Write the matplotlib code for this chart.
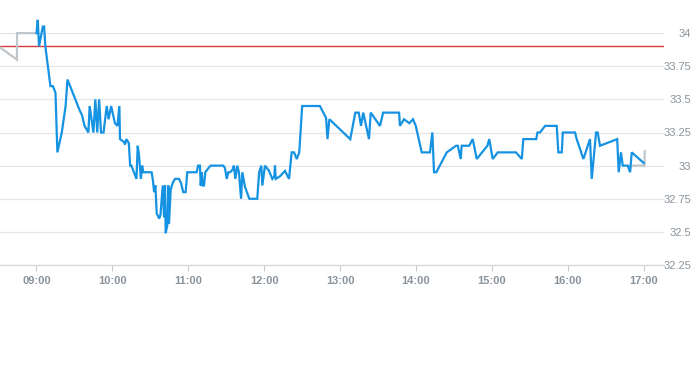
import matplotlib
matplotlib.use("Agg")
import matplotlib.pyplot as plt

# ---- data ----
times = [
    "09:00:00", "09:01:00", "09:02:00", "09:05:00", "09:06:00", "09:07:00", "09:11:00", "09:13:00",
    "09:15:00", "09:16:30", "09:20:00", "09:23:00", "09:24:30", "09:34:00", "09:36:00", "09:38:00",
    "09:41:00", "09:42:00", "09:45:00", "09:46:30", "09:48:00", "09:49:30", "09:51:00", "09:53:00",
    "09:55:30", "09:57:00", "09:59:00", "10:02:00", "10:04:00", "10:05:30", "10:06:00", "10:09:00",
    "10:10:00", "10:11:00", "10:13:00", "10:14:00", "10:15:00", "10:19:00", "10:20:00", "10:21:00",
    "10:22:30", "10:23:30", "10:24:30", "10:31:00", "10:32:00", "10:33:00", "10:34:00", "10:35:00",
    "10:37:00", "10:38:00", "10:39:48", "10:40:48", "10:41:36", "10:42:06", "10:43:24", "10:44:12",
    "10:44:42", "10:46:06", "10:47:42", "10:49:30", "10:52:36", "10:54:12", "10:56:00", "10:57:54",
    "10:59:12", "11:06:36", "11:07:42", "11:09:12", "11:09:48", "11:10:36", "11:11:24", "11:12:24",
    "11:13:24", "11:15:48", "11:17:42", "11:27:42", "11:29:00", "11:30:24", "11:31:36", "11:33:00",
    "11:35:00", "11:36:00", "11:37:12", "11:38:42", "11:40:00", "11:41:42", "11:42:42", "11:44:48",
    "11:48:12", "11:54:30", "11:56:00", "11:57:42", "11:58:30", "12:00:36", "12:03:48", "12:06:24",
    "12:08:00", "12:08:30", "12:09:06", "12:12:30", "12:16:24", "12:19:36", "12:21:42", "12:23:36",
    "12:25:42", "12:27:42", "12:30:00", "12:44:00", "12:46:42", "12:48:54", "12:50:00", "12:51:30",
    "13:08:00", "13:12:00", "13:14:42", "13:16:30", "13:18:18", "13:22:48", "13:24:12", "13:31:30",
    "13:34:00", "13:46:36", "13:47:18", "13:50:30", "13:54:42", "13:57:36", "13:59:48", "14:04:30",
    "14:11:00", "14:12:54", "14:14:12", "14:16:00", "14:24:18", "14:31:36", "14:33:00", "14:35:18",
    "14:36:06", "14:42:00", "14:44:48", "14:48:00", "14:56:24", "14:57:54", "15:00:36", "15:04:36",
    "15:19:00", "15:23:36", "15:24:48", "15:35:00", "15:36:00", "15:38:00", "15:42:00", "15:51:12",
    "15:52:30", "15:55:12", "15:56:00", "16:05:42", "16:07:00", "16:12:18", "16:17:30", "16:18:54",
    "16:22:18", "16:23:36", "16:25:24", "16:39:00", "16:40:12", "16:42:00", "16:43:24", "16:47:24",
    "16:49:12", "16:50:30", "17:00:00",
]
prices = [
    34.00, 34.10, 33.90, 34.05, 34.05, 33.90, 33.60, 33.60,
    33.55, 33.10, 33.25, 33.45, 33.65, 33.42, 33.38, 33.30,
    33.25, 33.45, 33.25, 33.50, 33.25, 33.50, 33.25, 33.25,
    33.45, 33.35, 33.45, 33.32, 33.30, 33.45, 33.20, 33.18,
    33.16, 33.20, 33.17, 33.00, 33.00, 32.90, 33.15, 33.08,
    32.90, 33.00, 32.95, 32.95, 32.89, 32.80, 32.85, 32.64,
    32.60, 32.63, 32.85, 32.61, 32.85, 32.49, 32.55, 32.85,
    32.56, 32.82, 32.87, 32.90, 32.90, 32.87, 32.80, 32.80,
    32.95, 32.95, 33.00, 33.00, 32.85, 32.95, 32.85, 32.85,
    32.95, 32.98, 33.00, 33.00, 32.98, 32.90, 32.95, 32.95,
    32.97, 33.00, 32.90, 33.00, 32.95, 32.75, 32.95, 32.84,
    32.75, 32.75, 32.95, 33.00, 32.85, 33.00, 32.96, 32.90,
    32.92, 33.00, 32.90, 32.92, 32.96, 32.90, 33.10, 33.10,
    33.05, 33.10, 33.45, 33.45, 33.40, 33.36, 33.20, 33.35,
    33.20, 33.40, 33.40, 33.30, 33.40, 33.20, 33.40, 33.30,
    33.40, 33.40, 33.30, 33.35, 33.32, 33.35, 33.30, 33.10,
    33.10, 33.25, 32.95, 32.95, 33.10, 33.15, 33.15, 33.05,
    33.15, 33.15, 33.20, 33.05, 33.15, 33.20, 33.05, 33.10,
    33.10, 33.05, 33.20, 33.20, 33.25, 33.25, 33.30, 33.30,
    33.10, 33.10, 33.25, 33.25, 33.20, 33.05, 33.20, 32.90,
    33.25, 33.25, 33.15, 33.20, 32.95, 33.10, 33.00, 33.00,
    32.95, 33.10, 33.02,
]

# grey (out-of-session) series
grey_times = ["08:30:00", "08:44:30", "08:44:40", "09:00:00",
              "16:49:12", "17:00:36", "17:00:48"]
grey_prices = [33.90, 33.80, 34.00, 34.00,
               33.00, 33.00, 33.11]
grey_breaks = [4]  # index where a new grey segment starts

reference_price = 33.90

y_ticks = [32.25, 32.5, 32.75, 33.0, 33.25, 33.5, 33.75, 34.0]
y_tick_labels = ["32.25", "32.5", "32.75", "33", "33.25", "33.5", "33.75", "34"]
x_tick_labels = ["09:00", "10:00", "11:00", "12:00", "13:00", "14:00", "15:00", "16:00", "17:00"]


def to_min(s):
    parts = [int(p) for p in s.split(":")]
    h, m = parts[0], parts[1]
    sec = parts[2] if len(parts) > 2 else 0
    return (h - 9) * 60 + m + sec / 60.0


x = [to_min(t) for t in times]
gx = [to_min(t) for t in grey_times]
xt = [to_min(t) for t in x_tick_labels]

fig = plt.figure(figsize=(6.93, 3.65), dpi=100)
ax = fig.add_axes([0.0, 1 - 265 / 365, 664 / 693, 265 / 365])

grid_c = "#e3e6e8"
text_c = "#8a939b"

for yv in y_ticks:
    ax.axhline(yv, color=grid_c, lw=0.9, zorder=1)

ax.axhline(reference_price, color="#d23b3b", lw=1.0, zorder=2)

b = grey_breaks[0]
ax.plot(gx[:b], grey_prices[:b], color="#bfc6cc", lw=1.6, zorder=3, solid_joinstyle="miter")
ax.plot(gx[b:], grey_prices[b:], color="#bfc6cc", lw=1.6, zorder=3, solid_joinstyle="miter")
ax.plot(x, prices, color="#1593e2", lw=1.6, zorder=4, solid_joinstyle="miter")

ax.set_xlim(-28.85, 496.0)
ax.set_ylim(32.25, 34.25)

for s in ["top", "left", "right"]:
    ax.spines[s].set_visible(False)
ax.spines["bottom"].set_color("#d5d9dc")
ax.spines["bottom"].set_linewidth(0.9)

ax.set_xticks(xt)
ax.set_xticklabels(x_tick_labels)
ax.tick_params(axis="x", length=4, width=0.8, color="#c8cdd1", pad=4,
               labelsize=8, labelcolor=text_c)
for lab in ax.get_xticklabels():
    lab.set_fontfamily("Liberation Sans")
    lab.set_fontweight("bold")

ax.yaxis.tick_right()
ax.set_yticks(y_ticks)
ax.set_yticklabels(y_tick_labels)
ax.tick_params(axis="y", length=0, pad=19.5, labelsize=8, labelcolor=text_c)
for lab in ax.get_yticklabels():
    lab.set_horizontalalignment("right")
    lab.set_fontfamily("Liberation Sans")

ax.set_facecolor("white")
fig.patch.set_facecolor("white")
fig.savefig("out.png", dpi=100)
